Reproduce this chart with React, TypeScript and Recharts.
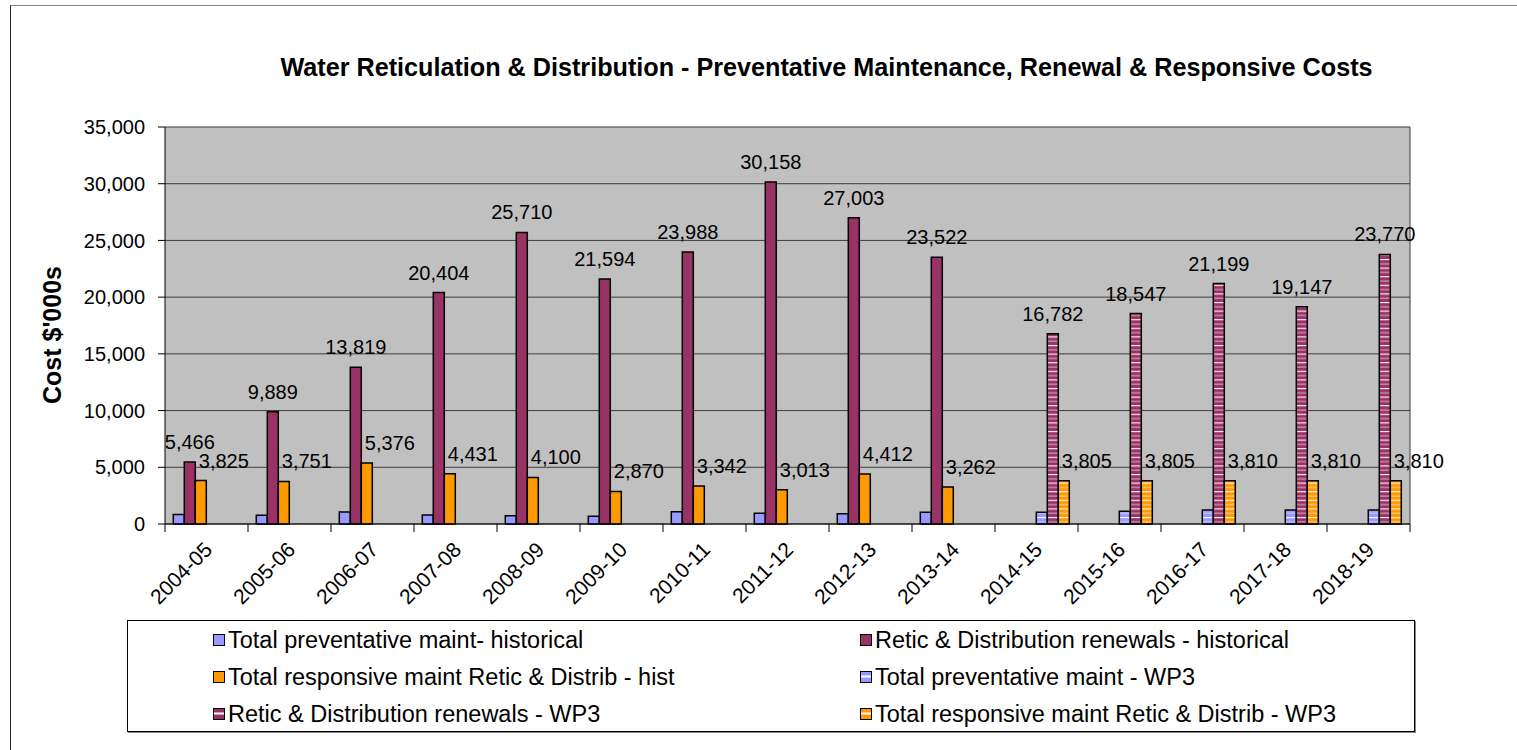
import React from "react";
import {
  BarChart,
  Bar,
  XAxis,
  YAxis,
  CartesianGrid,
  LabelList,
} from "recharts";

// ---- data ----
const categories = [
  "2004-05", "2005-06", "2006-07", "2007-08", "2008-09",
  "2009-10", "2010-11", "2011-12", "2012-13", "2013-14",
  "2014-15", "2015-16", "2016-17", "2017-18", "2018-19",
];

const preventativeHist = [830, 780, 1060, 790, 735, 680, 1085, 940, 910, 1030, null, null, null, null, null];
const renewalsHist = [5466, 9889, 13819, 20404, 25710, 21594, 23988, 30158, 27003, 23522, null, null, null, null, null];
const responsiveHist = [3825, 3751, 5376, 4431, 4100, 2870, 3342, 3013, 4412, 3262, null, null, null, null, null];
const preventativeWP3 = [null, null, null, null, null, null, null, null, null, null, 1030, 1120, 1240, 1240, 1240];
const renewalsWP3 = [null, null, null, null, null, null, null, null, null, null, 16782, 18547, 21199, 19147, 23770];
const responsiveWP3 = [null, null, null, null, null, null, null, null, null, null, 3805, 3805, 3810, 3810, 3810];

const yTicks = [0, 5000, 10000, 15000, 20000, 25000, 30000, 35000];

const chartTitle =
  "Water Reticulation & Distribution - Preventative Maintenance, Renewal & Responsive Costs";
const yAxisTitle = "Cost $'000s";

// ---- series setup ----
type SeriesDef = {
  key: string;
  name: string;
  fill: string;
  swatch: string;
  values: (number | null)[];
  label: "none" | "center" | "right";
};

const series: SeriesDef[] = [
  { key: "prevHist", name: "Total preventative maint- historical", fill: "#9999ff", swatch: "#9999ff", values: preventativeHist, label: "none" },
  { key: "renHist", name: "Retic & Distribution renewals - historical", fill: "#993366", swatch: "#993366", values: renewalsHist, label: "center" },
  { key: "respHist", name: "Total responsive maint Retic & Distrib - hist", fill: "#ff9900", swatch: "#ff9900", values: responsiveHist, label: "right" },
  { key: "prevWP3", name: "Total preventative maint - WP3", fill: "url(#stripeBlue)", swatch: "url(#lgStripeBlue)", values: preventativeWP3, label: "none" },
  { key: "renWP3", name: "Retic & Distribution renewals - WP3", fill: "url(#stripeMaroon)", swatch: "url(#lgStripeMaroon)", values: renewalsWP3, label: "center" },
  { key: "respWP3", name: "Total responsive maint Retic & Distrib - WP3", fill: "url(#stripeOrange)", swatch: "url(#lgStripeOrange)", values: responsiveWP3, label: "right" },
];

// legend order: two columns, read row by row
const legendOrder = ["prevHist", "renHist", "respHist", "prevWP3", "renWP3", "respWP3"];

const data = categories.map((c, i) => {
  const row: Record<string, string | number | null> = { category: c };
  series.forEach((s) => {
    row[s.key] = s.values[i];
  });
  return row;
});

// ---- layout ----
const W = 1517;
const H = 750;
const FONT = "'Liberation Sans', Arial, Helvetica, sans-serif";
const margin = { top: 127, right: 107, bottom: 126, left: 85 };
const Y_AXIS_W = 80;
const X_AXIS_H = 100;
const plotLeft = margin.left + Y_AXIS_W;
const plotRight = W - margin.right;
const plotBottom = H - margin.bottom - X_AXIS_H;
const band = (plotRight - plotLeft) / categories.length;

const fmt = (v: number) => v.toLocaleString("en-US");

const StripeDefs = () => (
  <defs>
    {[
      { id: "stripeBlue", base: "#9999ff", a: "#ffffff", b: "#c8c8ff" },
      { id: "stripeMaroon", base: "#993366", a: "#ffffff", b: "#dba3bd" },
      { id: "stripeOrange", base: "#ff9900", a: "#ffffff", b: "#ffd08a" },
    ].map((p) => (
      <pattern key={p.id} id={p.id} patternUnits="userSpaceOnUse" width={8} height={8.6}>
        <rect x={0} y={0} width={8} height={8.6} fill={p.base} />
        <rect x={0} y={1} width={8} height={1.1} fill={p.a} />
        <rect x={0} y={5.3} width={8} height={1.1} fill={p.b} />
      </pattern>
    ))}
  </defs>
);

const LegendDefs = () => (
  <defs>
    {[
      { id: "lgStripeBlue", base: "#9999ff" },
      { id: "lgStripeMaroon", base: "#993366" },
      { id: "lgStripeOrange", base: "#ff9900" },
    ].map((p) => (
      <pattern key={p.id} id={p.id} patternUnits="userSpaceOnUse" width={11} height={11}>
        <rect x={0} y={0} width={11} height={11} fill={p.base} />
        <rect x={0} y={4.5} width={11} height={2} fill="#ffffff" />
      </pattern>
    ))}
  </defs>
);

const makeLabel = (mode: "center" | "right") => (props: any) => {
  const { x, y, width, value } = props;
  if (value === null || value === undefined) return null;
  const cx = Number(x) + Number(width) / 2 + (mode === "right" ? 23 : 0);
  const cy = Number(y) - 20;
  return (
    <text
      x={cx}
      y={cy}
      textAnchor="middle"
      dominantBaseline="central"
      fontSize={20}
      fontFamily={FONT}
      fill="#000"
    >
      {fmt(Number(value))}
    </text>
  );
};

const CategoryTick = (props: any) => {
  const { x, payload, index } = props;
  const isLast = index === categories.length - 1;
  const ax = Number(x) + 7;
  const ay = plotBottom + 27;
  return (
    <g>
      <line x1={x - band / 2} x2={x - band / 2} y1={plotBottom} y2={plotBottom + 8} stroke="#000" strokeWidth={1} />
      {isLast && (
        <line x1={x + band / 2} x2={x + band / 2} y1={plotBottom} y2={plotBottom + 8} stroke="#000" strokeWidth={1} />
      )}
      <text
        x={ax}
        y={ay}
        textAnchor="end"
        fontSize={21}
        fontFamily={FONT}
        fill="#000"
        transform={`rotate(-45 ${ax} ${ay})`}
      >
        {payload.value}
      </text>
    </g>
  );
};

export default function App() {
  const byKey = Object.fromEntries(series.map((s) => [s.key, s]));
  return (
    <div
      style={{
        position: "absolute",
        left: 0,
        top: 0,
        width: W,
        height: H,
        background: "#fff",
        fontFamily: FONT,
        overflow: "hidden",
      }}
    >
      {/* chart area frame */}
      <div
        style={{
          position: "absolute",
          left: 10,
          top: 5,
          width: W,
          height: H,
          borderLeft: "1px solid #222",
          borderTop: "1px solid #888",
        }}
      />
      <div
        style={{
          position: "absolute",
          left: 0,
          width: 1653,
          top: 53,
          textAlign: "center",
          fontWeight: "bold",
          fontSize: 25.2,
          color: "#000",
          whiteSpace: "nowrap",
        }}
      >
        {chartTitle}
      </div>
      <div
        style={{
          position: "absolute",
          left: 52,
          top: 335,
          transform: "translate(-50%, -50%) rotate(-90deg)",
          fontWeight: "bold",
          fontSize: 25,
          whiteSpace: "nowrap",
          color: "#000",
        }}
      >
        {yAxisTitle}
      </div>

      <div style={{ position: "absolute", left: 0, top: 0 }}>
        <BarChart
          width={W}
          height={H}
          data={data}
          margin={margin}
          barCategoryGap="10%"
          barGap={0}
        >
          <StripeDefs />
          <CartesianGrid
            vertical={true}
            horizontal={true}
            fill="#c0c0c0"
            stroke="#3c3c3c"
            strokeWidth={1}
            verticalCoordinatesGenerator={({ offset }: any) => [offset.left + offset.width]}
          />
          <XAxis
            dataKey="category"
            height={X_AXIS_H}
            interval={0}
            tickLine={false}
            axisLine={{ stroke: "#000", strokeWidth: 1 }}
            tick={<CategoryTick />}
          />
          <YAxis
            width={Y_AXIS_W}
            domain={[0, 35000]}
            ticks={yTicks}
            interval={0}
            tickSize={7}
            tickMargin={13}
            tickFormatter={fmt}
            axisLine={{ stroke: "#000", strokeWidth: 1 }}
            tickLine={{ stroke: "#000", strokeWidth: 1 }}
            tick={{ fontSize: 20, fill: "#000", fontFamily: FONT }}
          />
          {series.map((s) => (
            <Bar
              key={s.key}
              dataKey={s.key}
              name={s.name}
              fill={s.fill}
              stroke="#000"
              strokeWidth={1.5}
              isAnimationActive={false}
            >
              {s.label !== "none" && (
                <LabelList dataKey={s.key} content={makeLabel(s.label)} />
              )}
            </Bar>
          ))}
        </BarChart>
      </div>

      {/* legend */}
      <div
        style={{
          position: "absolute",
          left: 127,
          top: 620,
          width: 1288,
          height: 112,
          border: "1px solid #000",
          boxShadow: "1px 1px 0 #888",
          boxSizing: "border-box",
        }}
      >
        <svg width={0} height={0} style={{ position: "absolute" }}>
          <LegendDefs />
        </svg>
        {legendOrder.map((k, i) => {
          const s = byKey[k];
          const col = i % 2;
          const row = Math.floor(i / 2);
          return (
            <div
              key={k}
              style={{
                position: "absolute",
                left: col === 0 ? 85 : 732,
                top: 7 + row * 37,
                height: 24,
                display: "flex",
                alignItems: "center",
                whiteSpace: "nowrap",
                fontSize: 23.5,
                color: "#000",
              }}
            >
              <svg width={12} height={12} style={{ marginRight: 3 }}>
                <rect x={0.5} y={0.5} width={11} height={11} fill={s.swatch} stroke="#000" strokeWidth={1} />
              </svg>
              <span>{s.name}</span>
            </div>
          );
        })}
      </div>
    </div>
  );
}
